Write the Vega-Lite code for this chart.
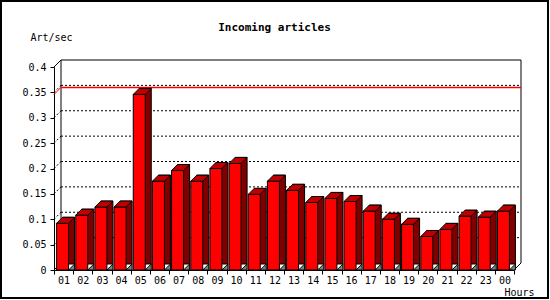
{
  "$schema": "https://vega.github.io/schema/vega-lite/v6.json",
  "width": 547,
  "height": 297,
  "autosize": "none",
  "padding": {"left": 1, "top": 1, "right": 2, "bottom": 2},
  "background": "white",
  "config": {
    "view": {"stroke": "black", "strokeWidth": 2},
    "font": "DejaVu Sans Mono"
  },
  "title": {
    "text": "Incoming articles",
    "font": "DejaVu Sans Mono",
    "fontSize": 11,
    "fontWeight": "bold",
    "color": "black",
    "anchor": "middle",
    "frame": "group",
    "baseline": "alphabetic",
    "offset": 0,
    "dy": 41
  },
  "datasets": {
    "rates": [
      {"h": "01", "v": 0.092}, {"h": "02", "v": 0.108}, {"h": "03", "v": 0.124},
      {"h": "04", "v": 0.124}, {"h": "05", "v": 0.346}, {"h": "06", "v": 0.175},
      {"h": "07", "v": 0.196}, {"h": "08", "v": 0.175}, {"h": "09", "v": 0.2},
      {"h": "10", "v": 0.21}, {"h": "11", "v": 0.149}, {"h": "12", "v": 0.175},
      {"h": "13", "v": 0.157}, {"h": "14", "v": 0.133}, {"h": "15", "v": 0.141},
      {"h": "16", "v": 0.135}, {"h": "17", "v": 0.116}, {"h": "18", "v": 0.1},
      {"h": "19", "v": 0.09}, {"h": "20", "v": 0.066}, {"h": "21", "v": 0.08},
      {"h": "22", "v": 0.106}, {"h": "23", "v": 0.104}, {"h": "00", "v": 0.116}
    ],
    "levels": [
      {"g": 0}, {"g": 0.05}, {"g": 0.1}, {"g": 0.15}, {"g": 0.2}, {"g": 0.25}, {"g": 0.3}, {"g": 0.35}, {"g": 0.4}
    ]
  },
  "data": {"name": "rates"},
  "encoding": {
    "x": {
      "field": "h",
      "type": "ordinal",
      "scale": {
        "domain": ["01","02","03","04","05","06","07","08","09","10","11","12","13","14","15","16","17","18","19","20","21","22","23","00"],
        "range": [53, 513],
        "paddingInner": 0,
        "paddingOuter": 0
      },
      "axis": {
        "title": "Hours",
        "titleFont": "DejaVu Sans Mono",
        "titleFontSize": 10,
        "titleFontWeight": "normal",
        "titleColor": "black",
        "titleAngle": 0,
        "titleAlign": "left",
        "titleBaseline": "alphabetic",
        "titleX": 503,
        "titleY": 25,
        "offset": -28,
        "tickBand": "extent",
        "tickSize": 4,
        "tickColor": "black",
        "domainColor": "black",
        "labelColor": "black",
        "labelFont": "DejaVu Sans Mono",
        "labelFontSize": 10,
        "labelAngle": 0,
        "labelPadding": 1,
        "labelDx": -1,
        "grid": false
      }
    },
    "y": {
      "field": "v",
      "type": "quantitative",
      "scale": {"domain": [0, 0.4], "range": [269, 66], "nice": false, "zero": false},
      "axis": {
        "title": "Art/sec",
        "titleFont": "DejaVu Sans Mono",
        "titleFontSize": 10,
        "titleFontWeight": "normal",
        "titleColor": "black",
        "titleAngle": 0,
        "titleAlign": "left",
        "titleBaseline": "alphabetic",
        "titleX": -24,
        "titleY": 39,
        "offset": -53,
        "values": [0, 0.05, 0.1, 0.15, 0.2, 0.25, 0.3, 0.35, 0.4],
        "format": "~g",
        "tickSize": 4,
        "tickColor": "black",
        "domainColor": "black",
        "labelColor": "black",
        "labelFont": "DejaVu Sans Mono",
        "labelFontSize": 10,
        "labelPadding": 4,
        "grid": false
      }
    }
  },
  "layer": [
    {
      "data": {"name": "levels"},
      "transform": [{"filter": "datum.g > 0.39"}],
      "mark": {"type": "rule", "color": "black", "strokeWidth": 1, "xOffset": 7, "x2Offset": 7, "yOffset": -7},
      "encoding": {
        "x": {"datum": "01", "type": "ordinal", "bandPosition": 0},
        "x2": {"datum": "00", "bandPosition": 1},
        "y": {"field": "g", "type": "quantitative"}
      }
    },
    {
      "data": {"name": "levels"},
      "transform": [{"filter": "datum.g > 0.39"}],
      "mark": {"type": "rule", "color": "black", "strokeWidth": 1, "xOffset": 7, "yOffset": -7, "y2Offset": -7},
      "encoding": {
        "x": {"datum": "01", "type": "ordinal", "bandPosition": 0},
        "y": {"field": "g", "type": "quantitative"},
        "y2": {"datum": 0}
      }
    },
    {
      "data": {"name": "levels"},
      "transform": [{"filter": "datum.g > 0.39"}],
      "mark": {"type": "rule", "color": "black", "strokeWidth": 1, "xOffset": 7, "yOffset": -7, "y2Offset": -7},
      "encoding": {
        "x": {"datum": "00", "type": "ordinal", "bandPosition": 1},
        "y": {"field": "g", "type": "quantitative"},
        "y2": {"datum": 0}
      }
    },
    {
      "data": {"name": "levels"},
      "transform": [{"filter": "datum.g < 0.01 || datum.g > 0.39"}],
      "mark": {"type": "point", "shape": "M0,0L7,-7", "size": 4, "filled": false, "color": "black", "opacity": 1, "strokeWidth": 1},
      "encoding": {
        "x": {"datum": "01", "type": "ordinal", "bandPosition": 0},
        "y": {"field": "g", "type": "quantitative"}
      }
    },
    {
      "data": {"name": "levels"},
      "transform": [{"filter": "datum.g < 0.01"}],
      "mark": {"type": "point", "shape": "M0,0L7,-7", "size": 4, "filled": false, "color": "black", "opacity": 1, "strokeWidth": 1},
      "encoding": {
        "x": {"datum": "00", "type": "ordinal", "bandPosition": 1},
        "y": {"field": "g", "type": "quantitative"}
      }
    },
    {
      "data": {"name": "levels"},
      "transform": [{"filter": "datum.g > 0.01 && datum.g < 0.39"}],
      "mark": {"type": "rule", "color": "black", "strokeWidth": 1, "strokeDash": [2, 2], "xOffset": 7, "x2Offset": 7, "yOffset": -7},
      "encoding": {
        "x": {"datum": "01", "type": "ordinal", "bandPosition": 0},
        "x2": {"datum": "00", "bandPosition": 1},
        "y": {"field": "g", "type": "quantitative"}
      }
    },
    {
      "data": {"name": "levels"},
      "transform": [{"filter": "datum.g > 0.01 && datum.g < 0.39"}],
      "mark": {"type": "point", "shape": "M0,0L7,-7", "size": 4, "filled": false, "color": "black", "opacity": 1, "strokeWidth": 1, "strokeDash": [2, 2]},
      "encoding": {
        "x": {"datum": "01", "type": "ordinal", "bandPosition": 0},
        "y": {"field": "g", "type": "quantitative"}
      }
    },
    {
      "data": {"name": "rates"},
      "transform": [
        {"joinaggregate": [{"op": "max", "field": "v", "as": "m"}]},
        {"filter": "datum.v == datum.m"}
      ],
      "mark": {"type": "rule", "color": "#ff0000", "strokeWidth": 1.5, "xOffset": 7, "x2Offset": 7, "yOffset": -7},
      "encoding": {
        "x": {"datum": "01", "type": "ordinal", "bandPosition": 0},
        "x2": {"datum": "00", "bandPosition": 1},
        "y": {"field": "m", "type": "quantitative"}
      }
    },
    {
      "data": {"name": "rates"},
      "transform": [
        {"joinaggregate": [{"op": "max", "field": "v", "as": "m"}]},
        {"filter": "datum.v == datum.m"}
      ],
      "mark": {"type": "point", "shape": "M0,0L7,-7", "size": 4, "filled": false, "color": "#ff0000", "opacity": 1, "strokeWidth": 1},
      "encoding": {
        "x": {"datum": "01", "type": "ordinal", "bandPosition": 0},
        "y": {"field": "m", "type": "quantitative"}
      }
    },
    {
      "mark": {"type": "bar", "width": 12, "xOffset": 5, "yOffset": -6, "fill": "#800000", "stroke": "black", "strokeWidth": 1}
    },
    {
      "mark": {"type": "point", "shape": "M6,0L12,-6L12,0Z", "size": 4, "filled": true, "fill": "#808080", "stroke": "black", "strokeWidth": 1, "opacity": 1, "xOffset": -1},
      "encoding": {
        "y": {"datum": 0, "type": "quantitative"}
      }
    },
    {
      "mark": {"type": "bar", "width": 12, "xOffset": -1, "fill": "#ff0000", "stroke": "black", "strokeWidth": 1}
    },
    {
      "mark": {"type": "point", "shape": "M-6,0L6,0L12,-6L0,-6Z", "size": 4, "filled": true, "fill": "#c00000", "stroke": "black", "strokeWidth": 1, "opacity": 1, "xOffset": -1}
    }
  ]
}
